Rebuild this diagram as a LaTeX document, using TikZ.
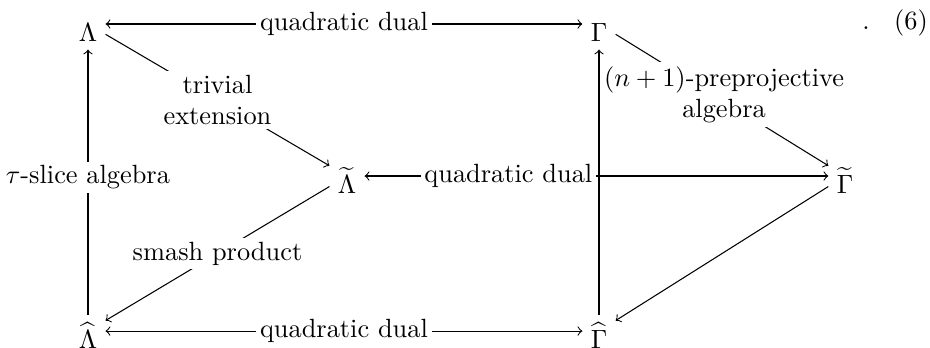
\documentclass[tikz,border=0pt]{standalone}
\usepackage{amsmath}
\usepackage{tikz}

\begin{document}
\begin{tikzpicture}[
  >=to,
  obj/.style={inner sep=3pt, text height=13pt, text depth=0pt},
  lbl/.style={fill=white, inner sep=1.5pt, align=center},
  arrow/.style={->, line width=0.4pt},
  darrow/.style={<->, line width=0.4pt}
]
  \useasboundingbox (0,0) rectangle (12.4,4.627);

  % algebras
  \node[obj] (L)  at (1.173,4.307) {$\Lambda$};
  \node[obj] (G)  at (7.987,4.307) {$\Gamma$};
  \node[obj] (Lt) at (4.627,2.280) {$\widetilde{\Lambda}$};
  \node[obj] (Gt) at (11.267,2.280) {$\widetilde{\Gamma}$};
  \node[obj] (Lh) at (1.173,0.213) {$\widehat{\Lambda}$};
  \node[obj] (Gh) at (7.987,0.213) {$\widehat{\Gamma}$};

  % punctuation and number
  \node[anchor=base] (dot) at (11.547,4.227) {.};
  \node[anchor=base] (num) at (12.147,4.227) {(6)};

  % quadratic duals
  \draw[darrow] (L) -- node[lbl] (qd1) {quadratic dual} (G);
  \draw[darrow] (Lt) -- node[lbl, pos=0.31] (qd2) {quadratic dual} (Gt);
  \draw[darrow] (Lh) -- node[lbl] (qd3) {quadratic dual} (Gh);

  % diagonals
  \draw[arrow] (L) -- node[lbl] (te) {trivial\\extension} (Lt);
  \draw[arrow] (Lt) -- node[lbl] (sp) {smash product} (Lh);
  \draw[arrow] (G) -- node[lbl, pos=0.46, xshift=4pt] (pp) {$(n+1)$-preprojective\\algebra} (Gt);
  \draw[arrow] (Gt) -- (Gh);

  % verticals
  \draw[arrow, shorten <=-3.5pt] (Lh) -- node[lbl] (ts) {$\tau$-slice algebra} (L);
  \draw[arrow, shorten <=-3.5pt] (Gh) -- (G);
\end{tikzpicture}
\end{document}
